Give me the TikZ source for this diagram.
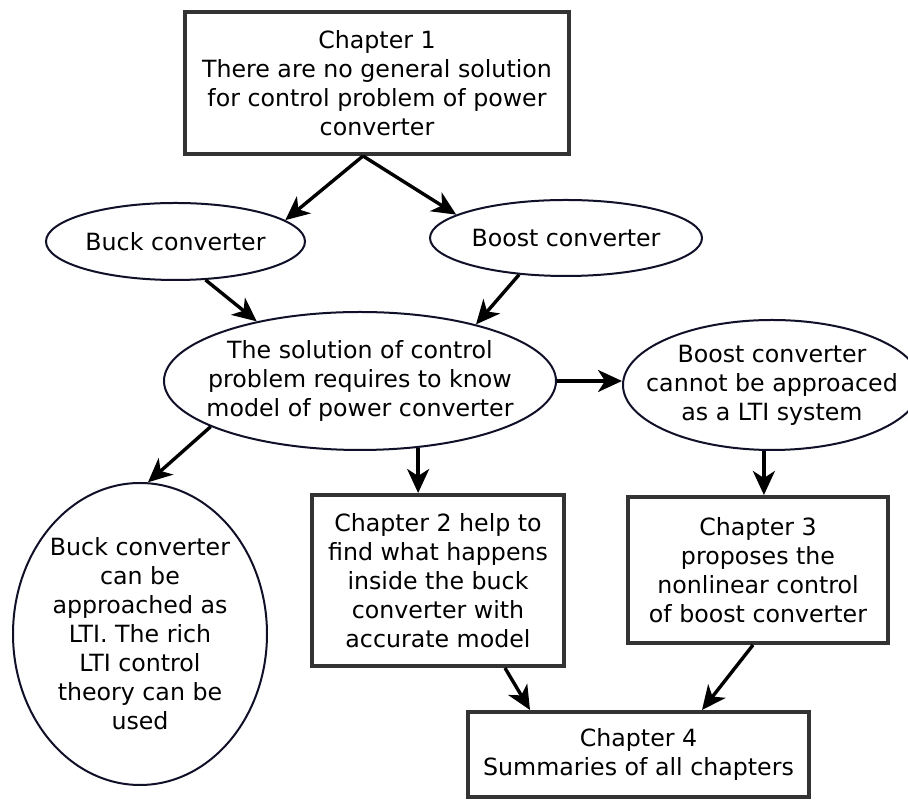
\documentclass[tikz,border=0pt]{standalone}
\usepackage{fontspec}
\setmainfont{DejaVu Sans}
\usetikzlibrary{shapes.geometric,arrows.meta,calc}
\definecolor{boxcol}{RGB}{51,51,51}
\definecolor{ellcol}{RGB}{16,16,40}
\newcommand{\fsz}{\fontsize{23.7}{29}\selectfont}
\tikzset{
  txt/.style={font=\fsz, align=center, inner sep=0pt, text=black},
  chbox/.style={draw=boxcol, line width=4pt, fill=white, rectangle, inner sep=0pt, txt},
  ell/.style={draw=ellcol, line width=2pt, fill=white, ellipse, inner sep=0pt},
  arr/.style={line width=3.4pt, draw=black, -{Stealth[length=24pt,width=22pt,inset=7pt]}}
}
\begin{document}
\begin{tikzpicture}[x=1pt,y=1pt]
\useasboundingbox (0,0) rectangle (908,800);
\fill[white] (0,0) rectangle (908,800);

\node[chbox, minimum width=384pt, minimum height=142pt] (ch1) at (377,717)
  {Chapter 1\\There are no general solution\\for control problem of power\\converter};

\node[ell, minimum width=259pt, minimum height=77pt, label={[txt]center:Buck converter}] (buck) at (175.5,558.5) {};
\node[ell, minimum width=272pt, minimum height=76pt, label={[txt]center:Boost converter}] (boost) at (566,562) {};
\node[ell, minimum width=392pt, minimum height=138pt,
  label={[txt]center:The solution of control\\problem requires to know\\model of power converter}] (mid) at (360,419) {};
\node[ell, minimum width=298pt, minimum height=130pt,
  label={[txt]center:Boost converter\\cannot be approaced\\as a LTI system}] (nolti) at (772,415) {};
\node[ell, minimum width=254pt, minimum height=302pt,
  label={[txt]center:Buck converter\\can be\\approached as\\LTI. The rich\\LTI control\\theory can be\\used}] (lti) at (140,166) {};

\node[chbox, minimum width=252pt, minimum height=171pt] (ch2) at (438,219.5)
  {Chapter 2 help to\\find what happens\\inside the buck\\converter with\\accurate model};
\node[chbox, minimum width=260pt, minimum height=146pt] (ch3) at (758,230)
  {Chapter 3\\proposes the\\nonlinear control\\of boost converter};
\node[chbox, minimum width=341pt, minimum height=85pt] (ch4) at (638.5,45.5)
  {Chapter 4\\Summaries of all chapters};

\draw[arr] ($(ch1.south)+(-14,0)$) -- (buck.11);
\draw[arr] ($(ch1.south)+(-14,0)$) -- (boost.168);
\draw[arr] (buck.-52) -- (mid.150);
\draw[arr] (boost.218) -- (mid.26);
\draw[arr] (mid.east) -- (mid.east -| nolti.west);
\draw[arr] (mid.197) -- (lti.87);
\draw[arr] (mid.-49) -- (mid.-49 |- ch2.north);
\draw[arr] (nolti.263) -- (nolti.263 |- ch3.north);
\draw[arr] ($(ch2.south)+(67,0)$) -- ($(ch4.north)+(-108.5,0)$);
\draw[arr] ($(ch3.south)+(-5,0)$) -- ($(ch4.north)+(63.5,0)$);
\end{tikzpicture}
\end{document}
